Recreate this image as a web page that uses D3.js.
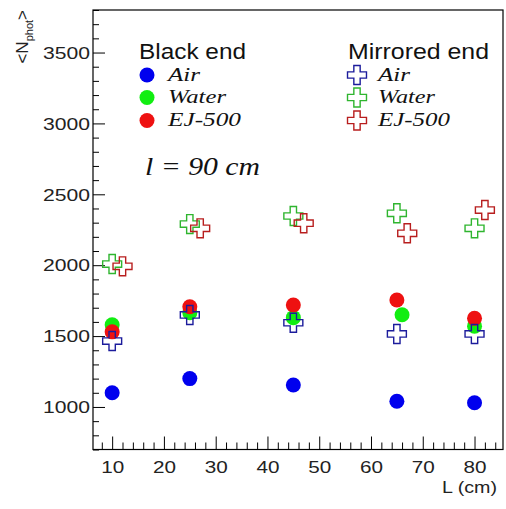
<!DOCTYPE html>
<html><head><meta charset="utf-8">
<script src="https://cdn.jsdelivr.net/npm/d3@7"></script>
<style>body{margin:0;background:#fff}svg{display:block}</style>
</head><body>
<script>
// ---- data ----
const L = [10, 25, 45, 65, 80];
const L_waterBlack = [10, 25, 45, 66, 80];
const L_ejMirror = [12, 27, 47, 67, 82];
const blackAir = [1100, 1200, 1155, 1040, 1030];
const blackWater = [1580, 1665, 1630, 1650, 1570];
const blackEJ = [1530, 1707, 1719, 1754, 1625];
const mirAir = [1465, 1649, 1594, 1515, 1515];
const mirWater = [2008, 2290, 2347, 2366, 2260];
const mirEJ = [1992, 2260, 2296, 2225, 2389];
const xTicks = [10, 20, 30, 40, 50, 60, 70, 80];
const yTicks = [1000, 1500, 2000, 2500, 3000, 3500];
const legendNames = ["Air", "Water", "EJ-500"];

const W = 506, H = 509;
const fl = 93, fr = 503, ft = 10, fb = 449.5;
const x = d3.scaleLinear().domain([6.3, 85.5]).range([fl, fr]);
const y = d3.scaleLinear().domain([700, 3800]).range([fb, ft]);

const svg = d3.select("body").append("svg").attr("width", W).attr("height", H);

const fillCol = ["#0000ee", "#11ee11", "#ee1111"];
const crossCol = ["#1c1c9c", "#2fb52f", "#b81e1e"];

// minor ticks
const yMinor = d3.range(700, 3801, 100).filter(v => v % 500 !== 0);
const xMinor = d3.range(8, 86, 2).filter(v => v % 10 !== 0);
svg.append("g").attr("transform", `translate(${fl},0)`)
  .call(d3.axisLeft(y).tickValues(yMinor).tickSize(-6).tickFormat(""))
  .call(g => g.select(".domain").remove());
svg.append("g").attr("transform", `translate(0,${fb})`)
  .call(d3.axisBottom(x).tickValues(xMinor).tickSize(-7).tickFormat(""))
  .call(g => g.select(".domain").remove());

// major
const ya = svg.append("g").attr("transform", `translate(${fl},0)`)
  .call(d3.axisLeft(y).tickValues(yTicks).tickSize(-12).tickPadding(3).tickFormat(d3.format("d")));
ya.select(".domain").remove();
ya.selectAll("text").attr("font-family", "'Liberation Sans', Arial, sans-serif")
  .attr("font-size", 17).attr("fill", "#222").attr("textLength", 47).attr("lengthAdjust", "spacingAndGlyphs")
  .attr("dy", "0.34em");
const xa = svg.append("g").attr("transform", `translate(0,${fb})`)
  .call(d3.axisBottom(x).tickValues(xTicks).tickSize(-13).tickPadding(11.5).tickFormat(d3.format("d")));
xa.select(".domain").remove();
xa.selectAll("text").attr("font-family", "'Liberation Sans', Arial, sans-serif")
  .attr("font-size", 17).attr("fill", "#222").attr("textLength", 23).attr("lengthAdjust", "spacingAndGlyphs");
svg.selectAll(".tick line").attr("stroke", "#000").attr("stroke-width", 1);

// frame
svg.append("rect").attr("x", fl).attr("y", ft).attr("width", fr - fl).attr("height", fb - ft)
  .attr("fill", "none").attr("stroke", "#000").attr("stroke-width", 1.2);

// axis titles
svg.append("text").attr("x", 497).attr("y", 493).attr("text-anchor", "end")
  .attr("font-family", "'Liberation Sans', Arial, sans-serif").attr("font-size", 17).attr("fill", "#222")
  .attr("textLength", 55).attr("lengthAdjust", "spacingAndGlyphs").text("L (cm)");
const yt = svg.append("text").attr("transform", "translate(28,10) rotate(-90)").attr("text-anchor", "end")
  .attr("font-family", "'Liberation Sans', Arial, sans-serif").attr("font-size", 17).attr("fill", "#222");
yt.append("tspan").text("<N");
yt.append("tspan").attr("font-size", 11).attr("dy", 5).text("phot");
yt.append("tspan").attr("dy", -5).text(">");

// data marks
const cross = d3.symbol(d3.symbolCross, 200);
const fillSeries = [[L, blackAir], [L_waterBlack, blackWater], [L, blackEJ]];
const crossSeries = [[L, mirAir], [L, mirWater], [L_ejMirror, mirEJ]];
fillSeries.forEach(([xs, vs], i) => {
  svg.append("g").selectAll("circle").data(vs).join("circle")
    .attr("cx", (d, j) => x(xs[j])).attr("cy", d => y(d)).attr("r", 7.5).attr("fill", fillCol[i]);
});
crossSeries.forEach(([xs, vs], i) => {
  svg.append("g").selectAll("path").data(vs).join("path")
    .attr("d", cross).attr("transform", (d, j) => `translate(${x(xs[j])},${y(d)})`)
    .attr("fill", "none").attr("stroke", crossCol[i]).attr("stroke-width", 1.4);
});

// legend
const sans = "'Liberation Sans', Arial, sans-serif";
const serif = "'Liberation Serif', 'Times New Roman', serif";
svg.append("text").attr("x", 139).attr("y", 59).attr("font-family", sans).attr("font-size", 22)
  .attr("fill", "#111").attr("textLength", 107).attr("lengthAdjust", "spacingAndGlyphs").text("Black end");
svg.append("text").attr("x", 348).attr("y", 59).attr("font-family", sans).attr("font-size", 22)
  .attr("fill", "#111").attr("textLength", 141).attr("lengthAdjust", "spacingAndGlyphs").text("Mirrored end");
const rowsY = [75, 97.5, 120.5];
const lw = [[32, 58, 73], [32, 57, 72]];
legendNames.forEach((nm, i) => {
  svg.append("circle").attr("cx", 147).attr("cy", rowsY[i]).attr("r", 7.5).attr("fill", fillCol[i]);
  svg.append("text").attr("x", 168).attr("y", rowsY[i] + 5.5).attr("font-family", serif)
    .attr("font-style", "italic").attr("font-size", 19).attr("fill", "#111")
    .attr("textLength", lw[0][i]).attr("lengthAdjust", "spacingAndGlyphs").text(nm);
  svg.append("path").attr("d", cross).attr("transform", `translate(357,${rowsY[i]})`)
    .attr("fill", "none").attr("stroke", crossCol[i]).attr("stroke-width", 1.4);
  svg.append("text").attr("x", 378).attr("y", rowsY[i] + 5.5).attr("font-family", serif)
    .attr("font-style", "italic").attr("font-size", 19).attr("fill", "#111")
    .attr("textLength", lw[1][i]).attr("lengthAdjust", "spacingAndGlyphs").text(nm);
});
svg.append("text").attr("x", 145).attr("y", 175).attr("font-family", serif).attr("font-style", "italic")
  .attr("font-size", 25).attr("fill", "#111").attr("textLength", 115).attr("lengthAdjust", "spacingAndGlyphs")
  .text("l = 90 cm");
</script>
</body></html>
